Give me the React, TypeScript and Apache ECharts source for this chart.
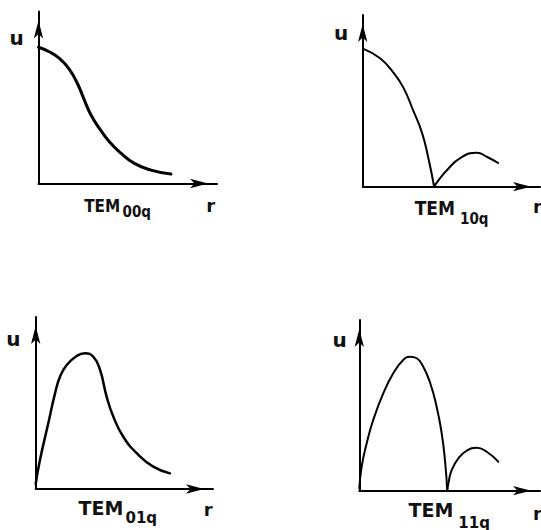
import React, { useEffect, useRef } from "react";
import * as echarts from "echarts";

// Mode profiles u(r), arbitrary units: r 0..10 to the arrow tip, u 0..10 to the arrow tip
const TEM00Q = [
  [0, 7.92], [0.6, 7.66], [1.17, 7.28], [1.73, 6.64], [2.2, 5.77], [2.57, 4.85], [2.94, 3.98],
  [3.41, 3.21], [3.97, 2.43], [4.62, 1.76], [5.37, 1.17], [6.3, 0.78], [7.42, 0.55],
];
const TEM10Q_LOBE1 = [
  [0.1, 8.0], [0.98, 7.48], [1.71, 6.67], [2.28, 5.8], [2.84, 4.46], [3.35, 3.12], [3.69, 1.73], [4.03, 0],
];
const TEM10Q_LOBE2 = [
  [4.03, 0], [4.2, 0.27], [4.76, 0.97], [5.5, 1.67], [6.44, 1.98], [7.02, 1.73], [7.64, 1.38],
];
const TEM01Q = [
  [0, 0.3], [0.24, 1.69], [0.71, 3.82], [1.09, 5.56], [1.37, 6.53], [1.75, 7.21], [2.31, 7.73],
  [2.78, 7.89], [3.25, 7.69], [3.63, 6.92], [4.0, 5.37], [4.38, 4.2], [4.94, 3.04], [5.7, 2.08],
  [6.63, 1.3], [7.57, 0.91],
];
const TEM11Q_LOBE1 = [
  [0, 0.14], [0.13, 1.41], [0.41, 2.78], [0.77, 4.14], [1.33, 5.71], [1.88, 6.88], [2.43, 7.66],
  [2.81, 7.85], [3.18, 7.76], [3.54, 7.26], [3.91, 6.35], [4.28, 4.92], [4.56, 3.36], [4.74, 1.8], [4.87, 0],
];
const TEM11Q_LOBE2 = [
  [4.87, 0], [4.93, 0.43], [5.11, 1.21], [5.48, 1.9], [5.94, 2.34], [6.5, 2.52], [7.05, 2.28], [7.69, 1.7],
];

const MODE_MAIN = ["TEM", "TEM", "TEM", "TEM"];
const MODE_SUB = ["00q", "10q", "01q", "11q"];
const AXIS_NAMES = { x: "r", y: "u" };

const FONT = "'DejaVu Sans', 'Liberation Sans', sans-serif";
const FONT_C = "'DejaVu Sans Condensed', 'DejaVu Sans', sans-serif";

export default function App() {
  const ref = useRef<HTMLDivElement>(null);
  useEffect(() => {
    if (!ref.current) return;
    const chart = echarts.init(ref.current, null, { renderer: "svg" });

    const grids = [
      { left: 38.5, top: 11.5, width: 178.5, height: 172 },
      { left: 362.7, top: 15, width: 177.3, height: 171.7 },
      { left: 35.7, top: 317, width: 177.3, height: 172 },
      { left: 359.3, top: 320, width: 180.7, height: 170.7 },
    ];

    const axisLine = {
      show: true,
      symbol: ["none", "arrow"],
      symbolSize: [7, 18],
      symbolOffset: [0, -9],
      lineStyle: { color: "#000", width: 2 },
    };
    const baseAxis = {
      type: "value" as const,
      min: 0,
      max: 10,
      axisLine,
      axisTick: { show: false },
      axisLabel: { show: false },
      splitLine: { show: false },
    };

    const mkSeries = (data: number[][], idx: number, width: number) => ({
      type: "line",
      data,
      xAxisIndex: idx,
      yAxisIndex: idx,
      smooth: 0.5,
      symbol: "none",
      lineStyle: { color: "#000", width, cap: "round", join: "round" },
      clip: false,
    });

    const labelPos = [
      { u: [16.7, 38], r: [210.8, 205], tem: [120.3, 206], sub: [122.5, 212], font: FONT_C, fs: 17 },
      { u: [341, 32.5], r: [537.5, 206.5], tem: [455, 208], sub: [460, 219], font: FONT_C, fs: 19 },
      { u: [13.3, 338.5], r: [208.3, 509.5], tem: [123.3, 508.3], sub: [125.5, 518.3], font: FONT, fs: 19 },
      { u: [339.5, 340.2], r: [537.5, 513.2], tem: [453.3, 510], sub: [458.3, 522.5], font: FONT, fs: 19 },
    ];

    const graphics: any[] = [];
    labelPos.forEach((p, i) => {
      graphics.push({
        type: "text",
        x: p.u[0], y: p.u[1],
        style: { text: AXIS_NAMES.y, font: `bold 20px ${FONT}`, fill: "#111", align: "center", verticalAlign: "middle" },
      });
      graphics.push({
        type: "text",
        x: p.r[0], y: p.r[1],
        style: { text: AXIS_NAMES.x, font: `bold 18px ${FONT}`, fill: "#111", align: "center", verticalAlign: "middle" },
      });
      graphics.push({
        type: "text",
        x: p.tem[0], y: p.tem[1],
        style: { text: MODE_MAIN[i], font: `bold ${p.fs}px ${p.font}`, fill: "#111", align: "right", verticalAlign: "middle" },
      });
      graphics.push({
        type: "text",
        x: p.sub[0], y: p.sub[1],
        style: { text: MODE_SUB[i], font: `bold 15px ${p.font}`, fill: "#111", align: "left", verticalAlign: "middle" },
      });
    });

    chart.setOption({
      animation: false,
      backgroundColor: "#fff",
      grid: grids,
      xAxis: grids.map((_, i) => ({ ...baseAxis, gridIndex: i })),
      yAxis: grids.map((_, i) => ({ ...baseAxis, gridIndex: i })),
      series: [
        mkSeries(TEM00Q, 0, 3),
        mkSeries(TEM10Q_LOBE1, 1, 2),
        mkSeries(TEM10Q_LOBE2, 1, 2),
        mkSeries(TEM01Q, 2, 2.5),
        mkSeries(TEM11Q_LOBE1, 3, 2),
        mkSeries(TEM11Q_LOBE2, 3, 2),
      ],
      graphic: graphics,
    });
    return () => chart.dispose();
  }, []);
  return (
    <div
      ref={ref}
      style={{ position: "fixed", left: 0, top: 0, width: 541, height: 530 }}
    />
  );
}
